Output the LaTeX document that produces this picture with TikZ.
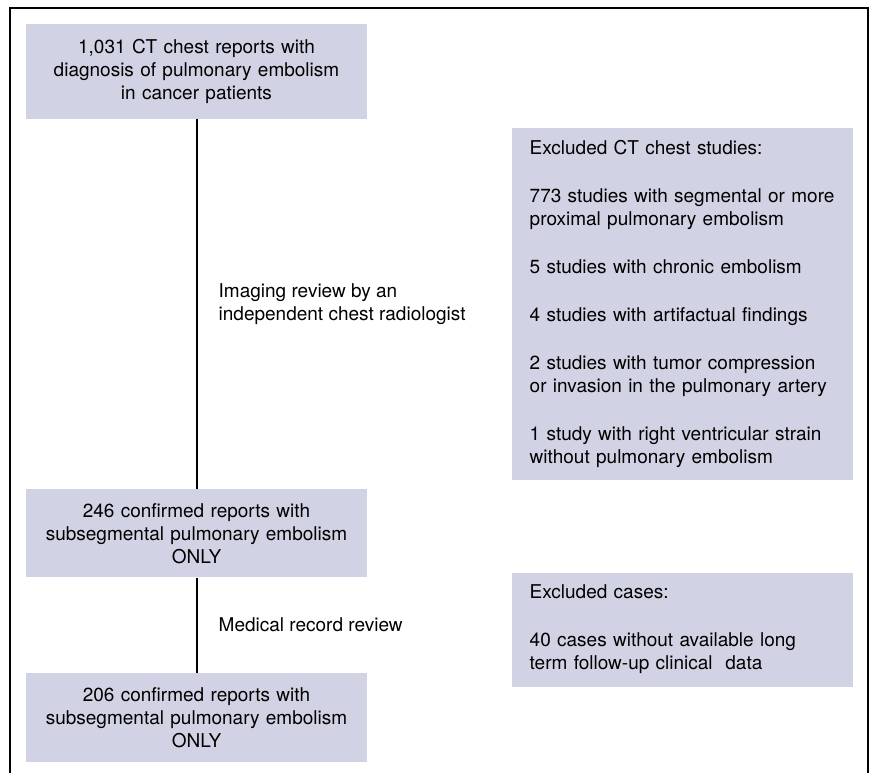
\documentclass[tikz,border=0pt]{standalone}
\usepackage{fontspec}
\setmainfont{TeX Gyre Heros}
\usepackage{tikz}
\usetikzlibrary{positioning}
\usepackage{xcolor}
\definecolor{boxgrey}{RGB}{209,211,228}
\newcommand{\bodyfont}{\fontsize{19}{23}\selectfont}
\tikzstyle{studybox} = [rectangle, minimum width=341pt, text width=321pt, inner xsep=10pt, inner ysep=0pt,
                        align=center, fill=boxgrey, font=\bodyfont]
\tikzstyle{exclbox}  = [rectangle, minimum width=341pt, text width=306pt, inner xsep=17.5pt, inner ysep=0pt,
                        align=left, fill=boxgrey, font=\bodyfont]
\tikzstyle{review}   = [inner sep=0pt, align=left, font=\bodyfont]
\tikzstyle{link}     = [line width=2pt]

\begin{document}
\begin{tikzpicture}[x=1pt, y=-1pt, node distance=95pt]
                \useasboundingbox (0,0) rectangle (872,773);
                \draw[line width=2.5pt] (10,773) -- (10,8) -- (868,8) -- (868,773);
                \node (ct) [studybox, minimum height=95pt] at (196.5,71.5) {1,031 CT chest reports with\\ diagnosis of pulmonary embolism\\ in cancer patients};
                \node (conf) [studybox, minimum height=88pt, below=370pt of ct] {246 confirmed reports with\\ subsegmental pulmonary embolism\\ ONLY};
                \node (final) [studybox, minimum height=89pt, below=of conf] {206 confirmed reports with\\ subsegmental pulmonary embolism\\ ONLY};
                \node (exstudy) [exclbox, minimum height=352pt, anchor=north west] at (512,128) {Excluded CT chest studies:\\[25pt]
                    773 studies with segmental or more\\ proximal pulmonary embolism\\[25pt]
                    5 studies with chronic embolism\\[25pt]
                    4 studies with artifactual findings\\[25pt]
                    2 studies with tumor compression\\ or invasion in the pulmonary artery\\[25pt]
                    1 study with right ventricular strain\\ without pulmonary embolism};
                \node (excase) [exclbox, minimum height=114pt, below=92pt of exstudy] {Excluded cases:\\[25pt]
                    40 cases without available long\\ term follow-up clinical\ \ data};
                \draw[link] (ct) -- (conf); \draw[link] (conf) -- (final);
                \path (ct.south) -- (conf.north) coordinate[midway] (m1);
                \path (conf.south) -- (final.north) coordinate[midway] (m2);
                \node (imgrev) [review, right=22pt of m1] {Imaging review by an\\ independent chest radiologist};
                \node (medrev) [review, right=22pt of m2] {Medical record review};
            \end{tikzpicture}
\end{document}
